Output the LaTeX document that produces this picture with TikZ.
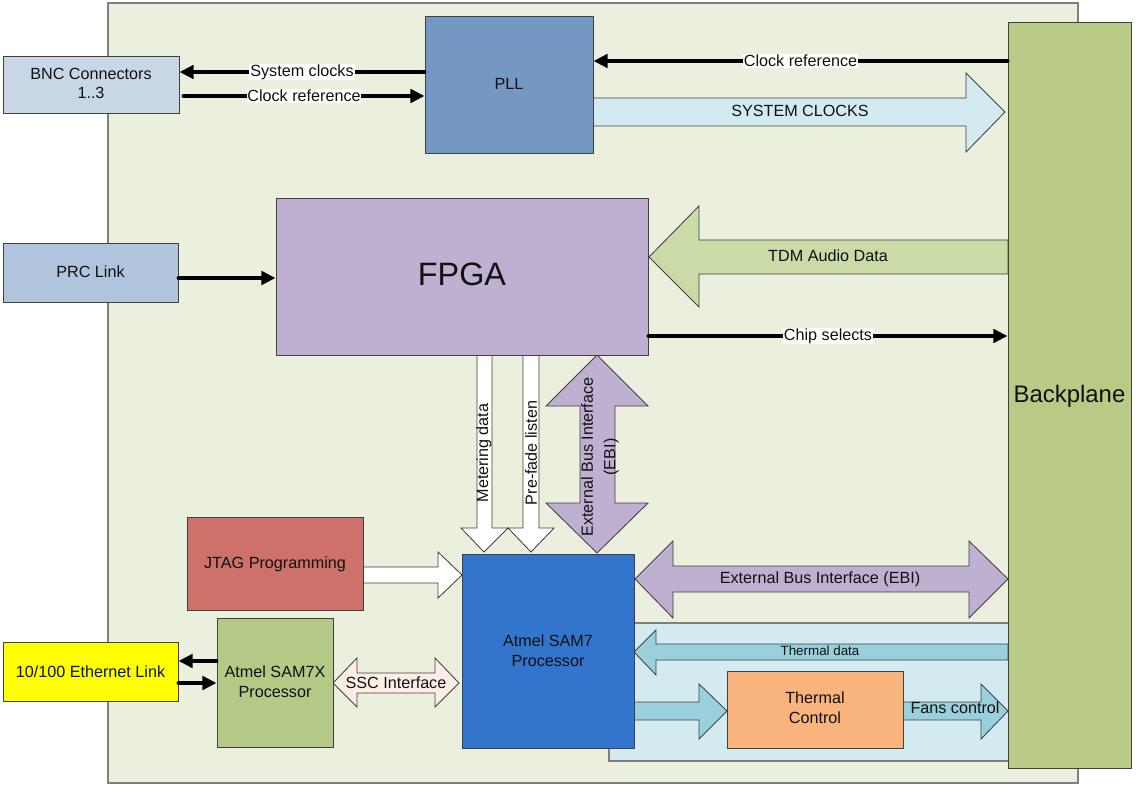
\documentclass[tikz,border=0pt]{standalone}
\usepackage{fontspec}
\setmainfont{Liberation Sans}
\usetikzlibrary{fit,arrows.meta,calc}
\definecolor{edge}{HTML}{404040}
\definecolor{boardc}{HTML}{EBEFDE}
\definecolor{boardl}{HTML}{7F7F7F}
\definecolor{bncc}{HTML}{C8D6E6}
\definecolor{pllc}{HTML}{7597C3}
\definecolor{prcc}{HTML}{B0C4DE}
\definecolor{fpgac}{HTML}{BFB0D2}
\definecolor{backc}{HTML}{B8CA86}
\definecolor{tdmc}{HTML}{CADBA8}
\definecolor{sysc}{HTML}{D3EBF0}
\definecolor{jtagc}{HTML}{CD716A}
\definecolor{samxc}{HTML}{B5C986}
\definecolor{ethc}{HTML}{FFFF00}
\definecolor{sscc}{HTML}{FCEEE6}
\definecolor{samc}{HTML}{3375CC}
\definecolor{thregc}{HTML}{D3EBF0}
\definecolor{tharc}{HTML}{9ACFDC}
\definecolor{thcc}{HTML}{F8B47C}
\definecolor{txt}{HTML}{111111}
\begin{document}
\begin{tikzpicture}[x=0.025cm,y=-0.025cm,
  font=\fontsize{11.5}{14}\selectfont, text=txt,
  box/.style={draw=edge, line width=0.7pt, inner sep=0pt},
  tx/.style={align=center, inner sep=0pt},
  barrow/.style={draw=edge, line width=0.6pt, line join=miter},
  conn/.style={line width=2.8pt, line cap=round, -{Triangle[length=10pt,width=9.5pt]}},
  lbl/.style={fill=white, inner sep=0.6pt}]
\useasboundingbox (0,0) rectangle (1136,787);
\fill[white] (0,0) rectangle (1136,787);
% board
\node[draw=boardl, line width=0.8pt, fill=boardc, inner sep=0pt, fit={(108,3) (1078,783)}] (board) {};
% thermal region
\node[draw=boardl, line width=0.8pt, fill=thregc, inner sep=0pt, fit={(609,623) (1020,761)}] (threg) {};

% block arrows
\filldraw[barrow, fill=sysc] (593,98) -- (966,98) -- (966,73) -- (1005,112) -- (966,152) -- (966,126) -- (593,126) -- cycle;
\node[tx] at (800,111) {SYSTEM CLOCKS};
\filldraw[barrow, fill=tdmc] (1008,240) -- (699,240) -- (699,206) -- (649,257) -- (699,307) -- (699,274) -- (1008,274) -- cycle;
\node[tx] at (828,256) {TDM Audio Data};
\filldraw[barrow, fill=white] (477,355) -- (492,355) -- (492,528) -- (508,528) -- (484,552) -- (461,528) -- (477,528) -- cycle;
\node[rotate=90] at (484,453) {Metering data};
\filldraw[barrow, fill=white] (523,355) -- (539,355) -- (539,528) -- (554,528) -- (531,552) -- (508,528) -- (523,528) -- cycle;
\node[rotate=90] at (531,453) {Pre-fade listen};
\filldraw[barrow, fill=fpgac] (597,355) -- (648,406) -- (615,406) -- (615,503) -- (648,503) -- (597,553) -- (546,503) -- (580,503) -- (580,406) -- (546,406) -- cycle;
\node[rotate=90, align=center, font=\fontsize{11.5}{16}\selectfont] at (600,457) {External Bus Interface\\(EBI)};
\filldraw[barrow, fill=white] (363,567) -- (438,567) -- (438,552) -- (462,575) -- (438,598) -- (438,583) -- (363,583) -- cycle;
\filldraw[barrow, fill=sscc] (333,683) -- (357,658) -- (357,673) -- (435,673) -- (435,658) -- (459,683) -- (435,707) -- (435,693) -- (357,693) -- (357,707) -- cycle;
\node[tx] at (396,683) {SSC Interface};
\filldraw[barrow, fill=fpgac] (635,579) -- (673,541) -- (673,566) -- (969,566) -- (969,541) -- (1008,579) -- (969,618) -- (969,592) -- (673,592) -- (673,618) -- cycle;
\node[tx] at (820,579) {External Bus Interface (EBI)};
\filldraw[barrow, fill=tharc] (1008,644) -- (656,644) -- (656,630) -- (634,652) -- (656,675) -- (656,660) -- (1008,660) -- cycle;
\node[tx, font=\fontsize{9.5}{11}\selectfont] at (820,651) {Thermal data};
\filldraw[barrow, fill=tharc] (634,702) -- (699,702) -- (699,684) -- (727,711) -- (699,739) -- (699,720) -- (634,720) -- cycle;
\filldraw[barrow, fill=tharc] (903,702) -- (981,702) -- (981,684) -- (1008,711) -- (981,739) -- (981,720) -- (903,720) -- cycle;

% boxes
\node[box, fill=backc, fit={(1008,22) (1131,768)}] (back) {};
\node[box, fill=bncc, fit={(3,56) (179,113)}] (bnc) {};
\node[box, fill=pllc, fit={(425,16) (593,153)}] (pll) {};
\node[box, fill=prcc, fit={(3,243) (178,302)}] (prc) {};
\node[box, fill=fpgac, fit={(276,198) (648,355)}] (fpga) {};
\node[box, fill=jtagc, fit={(187,517) (363,610)}] (jtag) {};
\node[box, fill=samxc, fit={(217,618) (333,747)}] (samx) {};
\node[box, fill=ethc, fit={(3,642) (178,701)}] (eth) {};
\node[box, fill=samc, fit={(462,554) (634,748)}] (sam) {};
\node[box, fill=thcc, fit={(727,671) (903,748)}] (thc) {};
% box texts
\node[tx, font=\fontsize{17}{20}\selectfont] at ($(back.center)+(0,1)$) {Backplane};
\node[tx] at ($(bnc.center)+(0,-1)$) {BNC Connectors\\1..3};
\node[tx] at ($(pll.center)+(0,-1)$) {PLL};
\node[tx] at ($(prc.center)+(0,-1)$) {PRC Link};
\node[tx, font=\fontsize{23}{26}\selectfont] at ($(fpga.center)+(0,-2)$) {FPGA};
\node[tx] at ($(jtag.center)+(0,1)$) {JTAG Programming};
\node[tx] at ($(samx.center)+(0,-1)$) {Atmel SAM7X\\Processor};
\node[tx] at ($(eth.center)+(0,0)$) {10/100 Ethernet Link};
\node[tx] at ($(sam.center)+(0,0)$) {Atmel SAM7\\Processor};
\node[tx] at ($(thc.center)+(0,-2)$) {Thermal\\Control};
\node[tx] at (955,708) {Fans control};

% connectors
\coordinate (c1) at ($(pll.west)+(0,-12.5)$);
\draw[conn] (c1) -- (c1 -| bnc.east) node[midway, lbl] {System clocks};
\coordinate (c2) at ($(pll.west)+(0,11.5)$);
\draw[conn] ($(c2 -| bnc.east)+(4,0)$) -- (c2) node[midway, lbl] {Clock reference};
\coordinate (c3) at (back.west |- 0,61);
\draw[conn] (c3) -- (c3 -| pll.east) node[midway, lbl] {Clock reference};
\coordinate (c4) at (prc.east |- 0,278);
\draw[conn] (c4) -- (c4 -| fpga.west);
\coordinate (c5) at (fpga.east |- 0,336);
\draw[conn] (c5) -- (c5 -| back.west) node[midway, lbl] {Chip selects};
\coordinate (c6) at ($(samx.west)+(0,-21.5)$);
\draw[conn] (c6) -- (c6 -| eth.east);
\coordinate (c7) at ($(samx.west)+(0,0.5)$);
\draw[conn] (c7 -| eth.east) -- (c7);
\end{tikzpicture}
\end{document}
